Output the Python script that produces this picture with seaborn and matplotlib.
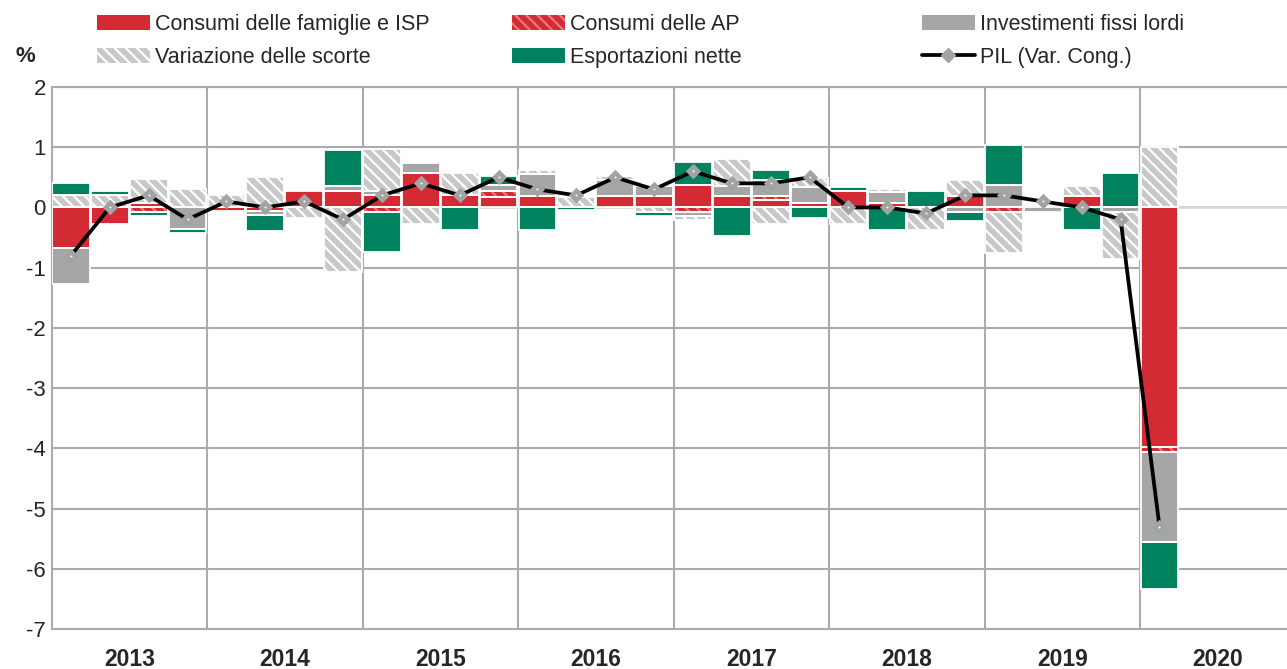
import numpy as np
import matplotlib
matplotlib.use("Agg")
import matplotlib.pyplot as plt
import seaborn as sns
from matplotlib.patches import Patch
from matplotlib.lines import Line2D

# contributi alla crescita del PIL, trimestrale 2013Q1 - 2020Q1
years = ["2013", "2014", "2015", "2016", "2017", "2018", "2019", "2020"]
quarters = [f"{y}Q{q}" for y in years for q in range(1, 5)][:29]

famiglie = [-0.67, -0.28, 0.08, 0.0, -0.06, -0.06, 0.28, 0.28,
            0.2, 0.58, 0.2, 0.18, 0.19, 0.0, 0.19, 0.19,
            0.38, 0.19, 0.12, 0.07, 0.28, 0.08, 0.0, 0.19,
            0.0, 0.0, 0.19, 0.0, -3.98]
consumi_ap = [0.0, 0.0, -0.07, 0.0, 0.0, 0.0, 0.0, 0.0,
              -0.07, 0.0, 0.0, 0.1, 0.0, 0.0, 0.0, 0.0,
              -0.07, 0.0, 0.07, 0.0, 0.0, 0.0, 0.0, 0.0,
              -0.07, 0.0, 0.0, 0.0, -0.08]
investimenti = [-0.6, 0.0, 0.0, -0.35, 0.0, -0.06, 0.0, 0.07,
                0.07, 0.16, 0.0, 0.1, 0.37, 0.0, 0.27, 0.17,
                -0.07, 0.17, 0.27, 0.27, 0.0, 0.17, 0.0, -0.07,
                0.37, -0.07, 0.0, -0.07, -1.5]
scorte = [0.2, 0.2, 0.4, 0.3, 0.2, 0.5, -0.17, -1.07,
          0.7, -0.27, 0.37, 0.0, 0.07, 0.18, 0.06, -0.07,
          -0.07, 0.45, -0.27, 0.15, -0.27, 0.06, -0.37, 0.26,
          -0.68, 0.0, 0.16, -0.78, 1.0]
esportazioni = [0.2, 0.07, -0.07, -0.07, 0.0, -0.27, 0.0, 0.6,
                -0.67, 0.0, -0.37, 0.15, -0.37, -0.05, 0.0, -0.07,
                0.38, -0.47, 0.17, -0.17, 0.06, -0.37, 0.28, -0.16,
                0.67, 0.0, -0.37, 0.58, -0.78]
pil = [-0.8, 0.0, 0.2, -0.2, 0.1, 0.0, 0.1, -0.2,
       0.2, 0.4, 0.2, 0.5, 0.3, 0.2, 0.5, 0.3,
       0.6, 0.4, 0.4, 0.5, 0.0, 0.0, -0.1, 0.2,
       0.2, 0.1, 0.0, -0.2, -5.3]

RED = "#D42A33"
RED_STRIPE = "#E8797D"
GRAY = "#A6A6A6"
LGRAY = "#C8C8C8"
GREEN = "#00825F"
GRID = "#ABABAB"

sns.set_theme(style="white")
plt.rcParams["font.family"] = ["Liberation Sans", "DejaVu Sans"]
plt.rcParams["axes.unicode_minus"] = False
plt.rcParams["hatch.linewidth"] = 1.6

fig = plt.figure(figsize=(12.87, 6.69), dpi=100)
ax = fig.add_axes([51.5 / 1287, 40 / 669, (1287 - 51.5) / 1287, 542 / 669])

x = np.arange(len(quarters))
series = [
    ("Consumi delle famiglie e ISP", famiglie, RED, None, RED),
    ("Consumi delle AP", consumi_ap, RED, "\\\\\\", RED_STRIPE),
    ("Investimenti fissi lordi", investimenti, GRAY, None, GRAY),
    ("Variazione delle scorte", scorte, LGRAY, "\\\\\\", "white"),
    ("Esportazioni nette", esportazioni, GREEN, None, GREEN),
]

pos = np.zeros(len(x))
neg = np.zeros(len(x))
handles = []
for name, vals, face, hatch, hcol in series:
    v = np.array(vals, dtype=float)
    bottom = np.where(v >= 0, pos, neg)
    m = v != 0
    ax.bar(x[m], v[m], bottom=bottom[m], width=0.97, color=face, hatch=hatch,
           edgecolor=hcol, linewidth=0, zorder=2)
    ax.bar(x[m], v[m], bottom=bottom[m], width=0.97, fill=False,
           edgecolor="white", linewidth=1.3, zorder=3)
    pos += np.where(v > 0, v, 0)
    neg += np.where(v < 0, v, 0)
    handles.append(Patch(facecolor=face, hatch=hatch, edgecolor=hcol,
                         linewidth=0, label=name))

# PIL
sns.lineplot(x=x, y=pil, ax=ax, color="black", linewidth=2.7, marker="D",
             markersize=7, markerfacecolor="#A3A3A3", markeredgecolor="#A3A3A3",
             zorder=5)
ax.scatter(x, pil, s=2, color="white", zorder=6, linewidths=0)
handles.append(Line2D([], [], color="black", linewidth=2.7, marker="D",
                      markersize=7, markerfacecolor="#A3A3A3",
                      markeredgecolor="#A3A3A3", label="PIL (Var. Cong.)"))

# assi
ax.set_xlim(-0.5, 31.28)
ax.set_ylim(-7, 2)
ax.set_yticks(range(-7, 3))
ax.set_yticklabels([str(i) for i in range(-7, 3)], fontsize=16)
ax.set_xticks(np.arange(3.5, 31, 4))
ax.set_xticklabels([])
ax.set_xticks(np.arange(1.5, 32, 4), minor=True)
ax.set_xticklabels(years, minor=True, fontsize=16.5, fontweight="bold")
ax.tick_params(axis="x", which="both", length=0, pad=14)
ax.tick_params(axis="y", length=0, pad=4)

ax.set_axisbelow(True)
ax.grid(True, which="major", axis="both", color=GRID, linewidth=1.5)
ax.axhline(0, color="#DADADA", linewidth=2, zorder=1.5)
for s in ["left", "bottom", "top"]:
    ax.spines[s].set_color(GRID)
    ax.spines[s].set_linewidth(1.5)
ax.spines["right"].set_visible(False)
ax.set_xlabel("")
ax.set_ylabel("")

fig.text(25 / 1287, 1 - 56 / 669, "%", ha="center", va="center",
         fontsize=16, fontweight="bold")

# legenda su tre colonne
cols = [(97, [handles[0], handles[3]]),
        (512, [handles[1], handles[4]]),
        (922, [handles[2], handles[5]])]
for left, hs in cols:
    fig.legend(handles=hs, loc="upper left",
               bbox_to_anchor=(left / 1287, 1 - 14 / 669), frameon=False,
               fontsize=15.5, borderpad=0, borderaxespad=0, handlelength=2.45,
               handleheight=0.7, handletextpad=0.25, labelspacing=0.55)

fig.savefig("out.png", dpi=100)
